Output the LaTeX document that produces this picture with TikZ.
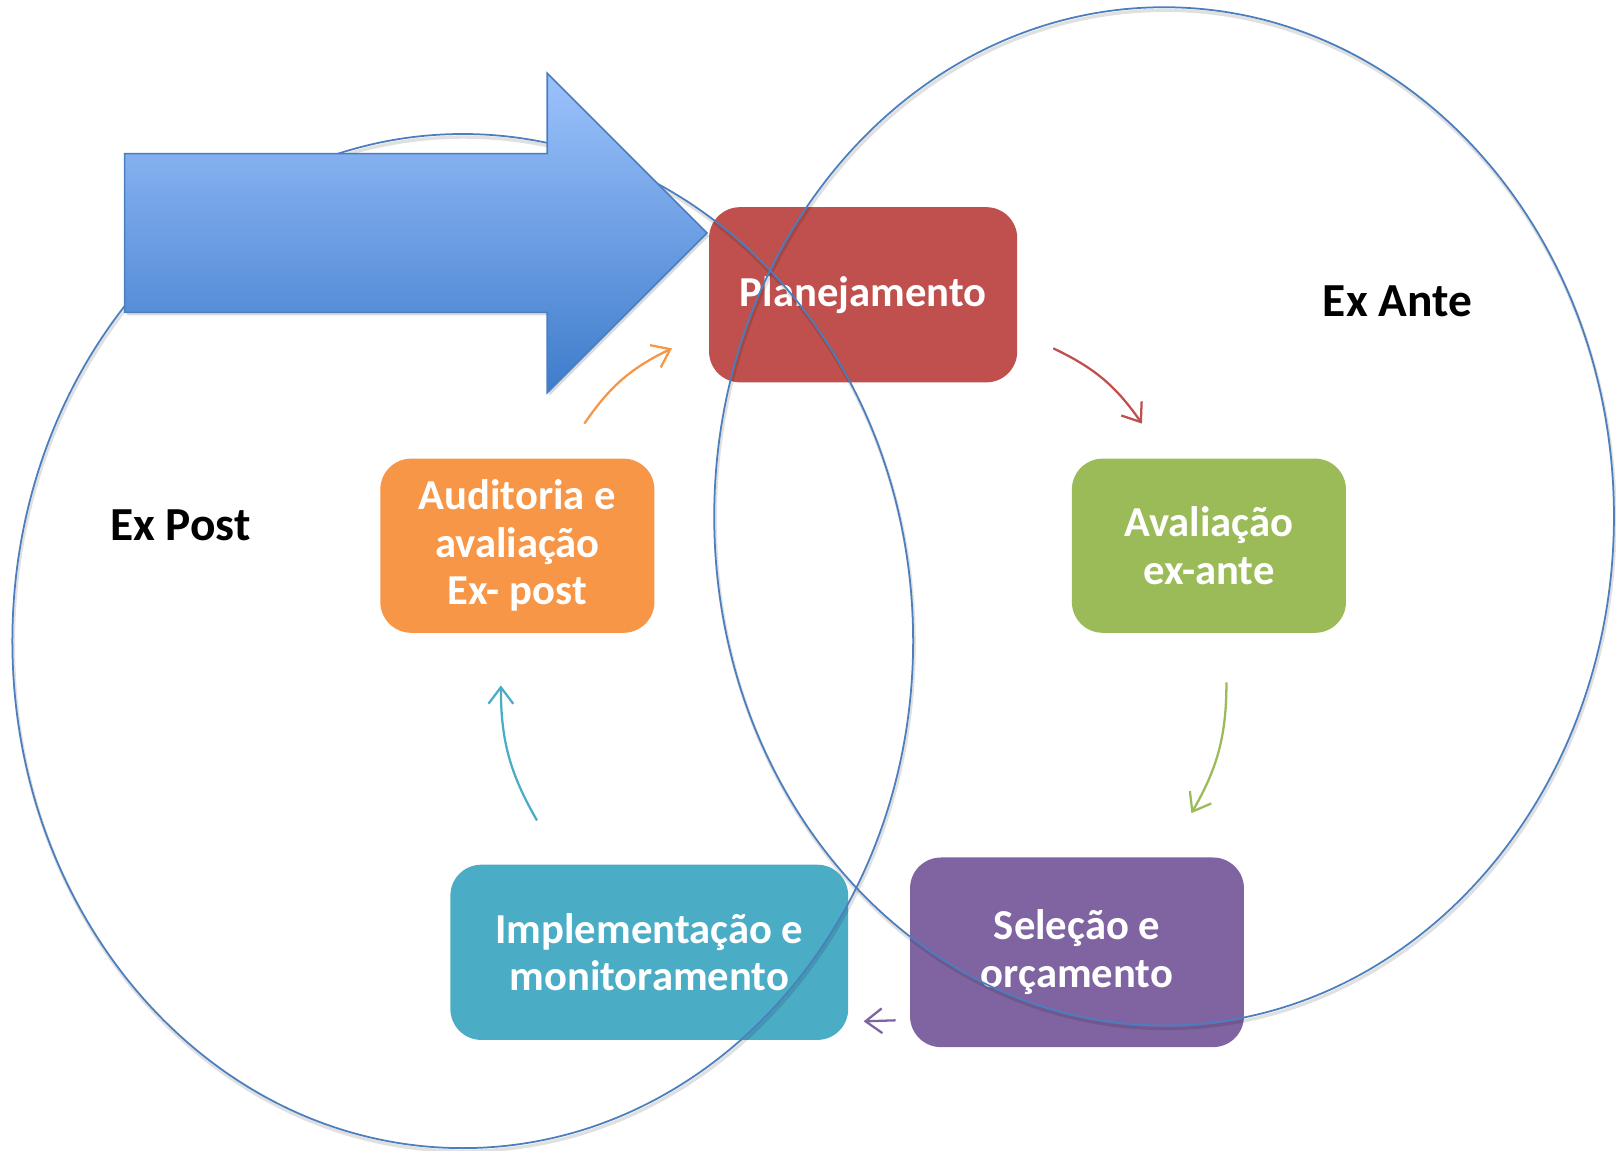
\documentclass[tikz,border=0pt]{standalone}
\usepackage{fontspec}
\setmainfont{Carlito}
\usetikzlibrary{arrows.meta,shadows}
\definecolor{cRed}{HTML}{C0504D}
\definecolor{cGreen}{HTML}{9BBB59}
\definecolor{cPurple}{HTML}{8064A2}
\definecolor{cTeal}{HTML}{4BACC6}
\definecolor{cOrange}{HTML}{F79646}
\definecolor{ringblue}{HTML}{4A7EBF}
\definecolor{arrowTop}{HTML}{9CC2FC}
\definecolor{arrowBot}{HTML}{3E7CCB}
\definecolor{arrowLine}{HTML}{4A7EBF}
\begin{document}
\begin{tikzpicture}[x=0.5pt,y=-0.5pt,
  txt/.style={font=\bfseries\fontsize{20.7}{23}\selectfont},
  box/.style={txt, rounded corners=15pt, inner sep=0pt, align=center, text=white},
  lbl/.style={font=\bfseries\fontsize{23}{26}\selectfont, text=black},
  ring/.style={draw=ringblue, line width=0.85pt},
  ringshadow/.style={draw=black, opacity=0.12, line width=1.6pt},
  conn/.style={line width=1.1pt, -{Straight Barb[length=8pt,width=12pt]}}
]
\useasboundingbox (0,0) rectangle (1568,1116);

% boxes
\node[box, fill=cRed,    minimum width=149.5pt, minimum height=85pt] (plan) at (837.5,286) {Planejamento};
\node[box, fill=cGreen,  minimum width=133pt,   minimum height=84.5pt] (aval) at (1173,529.5) {Avaliação\\ex-ante};
\node[box, fill=cPurple, minimum width=162pt,   minimum height=92pt] (sel) at (1045,924) {Seleção e\\orçamento};
\node[box, fill=cTeal,   minimum width=193pt,   minimum height=85pt] (impl) at (630,924) {Implementação e\\monitoramento};
\node[box, fill=cOrange, minimum width=133pt,   minimum height=84.5pt] (aud) at (502,529.5) {Auditoria e\\avaliação\\Ex- post};

% labels
\node[lbl] (expost) at (175,510) {Ex Post};
\node[lbl] (exante) at (1356,292) {Ex Ante};

% connector end points
\coordinate (o1) at (567,411);  \coordinate (o2) at (652,338);
\coordinate (r1) at (1022,338); \coordinate (r2) at (1108,411);
\coordinate (g1) at (1190,662); \coordinate (g2) at (1156,789);
\coordinate (p1) at (869,990);  \coordinate (p2) at (838,991);
\coordinate (t1) at (521,796);  \coordinate (t2) at (486,665);

\draw[conn, cOrange] (o1) to[bend left=15] (o2);
\draw[conn, cRed]    (r1) to[bend left=15] (r2);
\draw[conn, cGreen]  (g1) to[bend left=15] (g2);
\draw[conn, cPurple] (p1) -- (p2);
\draw[conn, cTeal]   (t1) to[bend left=15] (t2);

% ellipses
\draw[ringshadow] (450,625) ellipse [x radius=437, y radius=492];
\draw[ringshadow] (1130.5,504) ellipse [x radius=436.5, y radius=494];
\draw[ring] (449,622) ellipse [x radius=437, y radius=492];
\draw[ring] (1129.5,501) ellipse [x radius=436.5, y radius=494];

% big arrow
\shade[top color=arrowTop, bottom color=arrowBot, draw=arrowLine, line width=0.75pt,
  drop shadow={opacity=0.3, shadow xshift=1pt, shadow yshift=-1.5pt}]
  (121,149) -- (531,149) -- (531,71) -- (686,226) -- (531,381) -- (531,303) -- (121,303) -- cycle;
\end{tikzpicture}
\end{document}
